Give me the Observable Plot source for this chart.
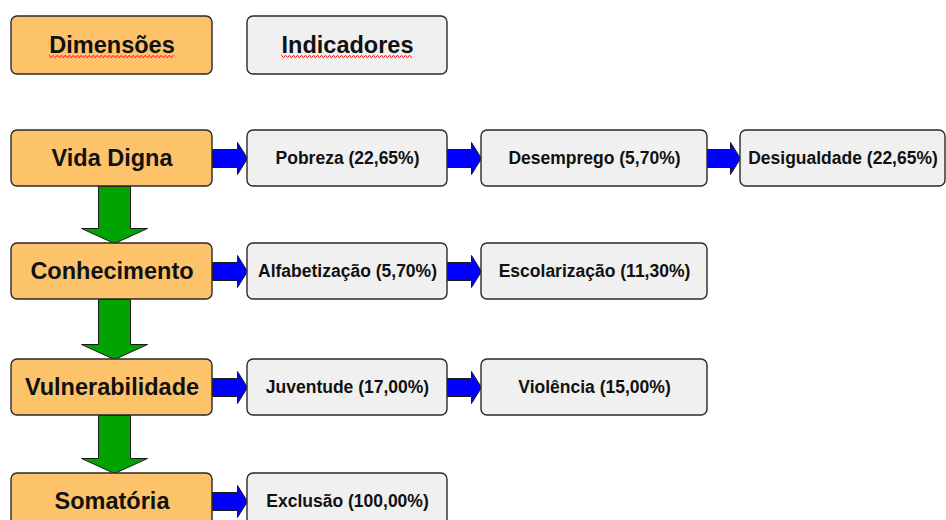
<!DOCTYPE html>
<html>
<head>
<meta charset="utf-8">
<script src="https://cdn.jsdelivr.net/npm/d3@7"></script>
<script src="https://cdn.jsdelivr.net/npm/@observablehq/plot@0.6"></script>
<style>
  html, body { margin: 0; padding: 0; background: #ffffff; }
  #chart svg { display: block; }
</style>
</head>
<body>
<div id="chart"></div>
<script>
// ---- data ----
const headers = ["Dimensões", "Indicadores"];
const dimensions = ["Vida Digna", "Conhecimento", "Vulnerabilidade", "Somatória"];
const indicatorNames = ["Pobreza", "Desemprego", "Desigualdade", "Alfabetização", "Escolarização", "Juventude", "Violência", "Exclusão"];
const indicatorWeights = [22.65, 5.70, 22.65, 5.70, 11.30, 17.00, 15.00, 100.00];
const indicatorDimension = [0, 0, 0, 1, 1, 2, 2, 3];

// ---- layout (diagram geometry) ----
const W = 946, H = 520;
const colLeft = [11, 247, 481, 740];
const colRight = [212, 447, 707, 945];
const rowTop = [16, 130, 243, 359, 473];
const boxH = 56;
const orange = "#fdc36a", grey = "#f0f0f0";
const font = "Liberation Sans, Arial, sans-serif";
const bigSize = 23.5, smallSize = 17.5;

const fmt = v => v.toFixed(2).replace(".", ",") + "%";

const nodes = [];
headers.forEach((h, i) => nodes.push({label: h, col: i, row: 0, fill: i === 0 ? orange : grey, kind: "header"}));
dimensions.forEach((d, i) => nodes.push({label: d, col: 0, row: i + 1, fill: orange, kind: "dim"}));
const colCount = {};
indicatorNames.forEach((n, i) => {
  const r = indicatorDimension[i];
  colCount[r] = (colCount[r] || 0) + 1;
  nodes.push({label: `${n} (${fmt(indicatorWeights[i])})`, col: colCount[r], row: r + 1, fill: grey, kind: "ind"});
});
nodes.forEach(n => {
  n.x1 = colLeft[n.col]; n.x2 = colRight[n.col];
  n.y1 = rowTop[n.row]; n.y2 = rowTop[n.row] + (n.row === 0 ? 58 : (n.row === 4 ? 60 : boxH));
  n.cx = (n.x1 + n.x2) / 2; n.cy = n.row === 4 ? n.y1 + 28 : (n.y1 + n.y2) / 2;
});

// blue arrows: between consecutive boxes in each row
const arrows = [];
let aid = 0;
for (let r = 1; r <= 4; r++) {
  const rowNodes = nodes.filter(n => n.row === r).sort((a, b) => a.col - b.col);
  for (let k = 0; k < rowNodes.length - 1; k++) {
    const a = rowNodes[k], b = rowNodes[k + 1];
    const xs = a.x2, xe = b.x1, xh = xe - 10, cy = a.y1 + 28;
    const pts = [[xs, cy - 9], [xh, cy - 9], [xh, cy - 16], [xe, cy], [xh, cy + 16], [xh, cy + 9], [xs, cy + 9], [xs, cy - 9]];
    pts.forEach(p => arrows.push({id: aid, x: p[0], y: p[1], color: "#0000ff"}));
    aid++;
  }
}
// green arrows: between dimension boxes
const dimNodes = nodes.filter(n => n.kind === "dim");
for (let k = 0; k < dimNodes.length - 1; k++) {
  const a = dimNodes[k], b = dimNodes[k + 1];
  const cx = 114, ys = a.y2, ye = b.y1, yh = ye - 15;
  const pts = [[cx - 16, ys], [cx + 16, ys], [cx + 16, yh], [cx + 33, yh], [cx, ye], [cx - 33, yh], [cx - 16, yh], [cx - 16, ys]];
  pts.forEach(p => arrows.push({id: aid, x: p[0], y: p[1], color: "#00a300"}));
  aid++;
}

// red spell-check squiggles under header words
const ctx = document.createElement("canvas").getContext("2d");
ctx.font = `bold ${bigSize}px ${font}`;
const squiggle = [];
nodes.filter(n => n.kind === "header").forEach((n, i) => {
  const w = ctx.measureText(n.label).width;
  const x0 = n.cx - w / 2, yb = n.cy + 11;
  for (let k = 0, x = x0; x <= x0 + w; k++, x += 2) {
    squiggle.push({id: i, x, y: yb + (k % 2 ? 1.3 : -1.3)});
  }
});

const chart = Plot.plot({
  width: W, height: H, margin: 0,
  x: {domain: [0, W], range: [0, W], axis: null},
  y: {domain: [0, H], range: [0, H], axis: null},
  style: {background: "#ffffff", fontFamily: font},
  marks: [
    Plot.line(arrows, {x: "x", y: "y", z: "id", fill: "color", stroke: "#1a1a1a", strokeWidth: 1, curve: "linear"}),
    Plot.rect(nodes, {x1: "x1", x2: "x2", y1: "y1", y2: "y2", fill: "fill", stroke: "#2a2a2a", strokeWidth: 1.4, rx: 6}),
    Plot.line(squiggle, {x: "x", y: "y", z: "id", stroke: "#ff2020", strokeWidth: 1, curve: "linear"}),
    Plot.text(nodes.filter(n => n.kind !== "ind"), {x: "cx", y: "cy", text: "label", fontSize: bigSize, fontWeight: "bold", fill: "#111", fontFamily: font}),
    Plot.text(nodes.filter(n => n.kind === "ind"), {x: "cx", y: "cy", text: "label", fontSize: smallSize, fontWeight: "bold", fill: "#111", fontFamily: font})
  ]
});
document.getElementById("chart").appendChild(chart);
</script>
</body>
</html>
